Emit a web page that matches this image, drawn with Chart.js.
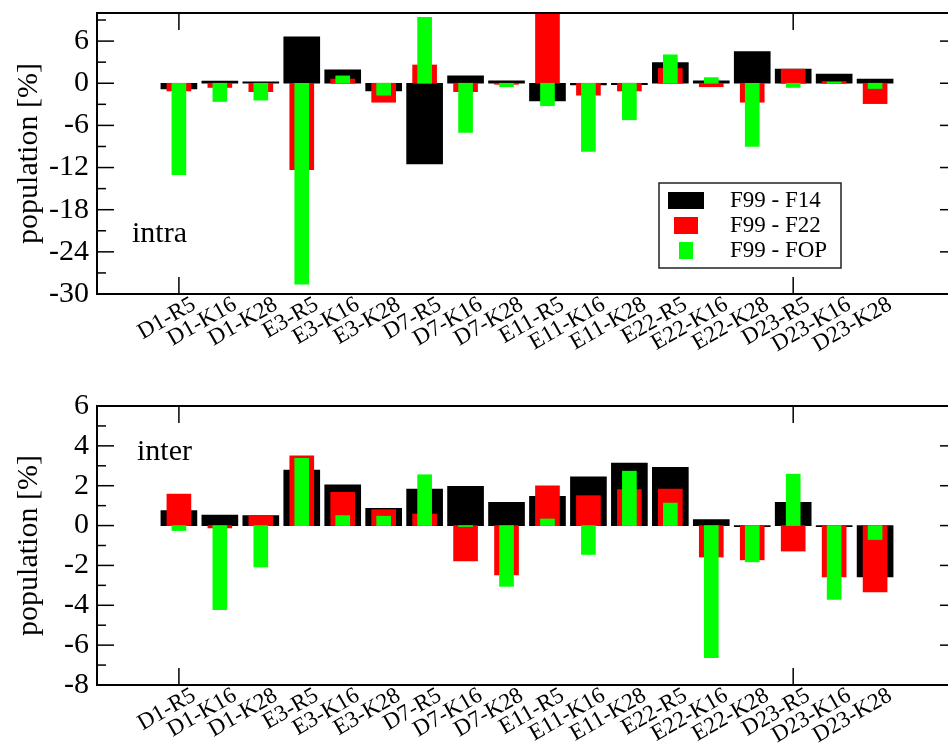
<!DOCTYPE html>
<html>
<head>
<meta charset="utf-8">
<script src="https://cdn.jsdelivr.net/npm/chart.js@4.4.1/dist/chart.umd.min.js"></script>
<style>
  html, body { margin: 0; padding: 0; background: #fff; overflow: hidden; width: 948px; height: 754px; }
  canvas { position: absolute; left: 0; }
  #intraChart { top: 0; }
  #interChart { top: 380px; }
</style>
</head>
<body>
<canvas id="intraChart" width="970" height="380"></canvas>
<canvas id="interChart" width="970" height="374"></canvas>
<script>
// Salt-bridge pairs
const categories = ['D1-R5', 'D1-K16', 'D1-K28', 'E3-R5', 'E3-K16', 'E3-K28',
  'D7-R5', 'D7-K16', 'D7-K28', 'E11-R5', 'E11-K16', 'E11-K28',
  'E22-R5', 'E22-K16', 'E22-K28', 'D23-R5', 'D23-K16', 'D23-K28'];

const seriesNames = ['F99 - F14', 'F99 - F22', 'F99 - FOP'];

// Population differences [%], intramolecular
const intraF14 = [-0.8, 0.3, 0.2, 6.6, 1.9, -1.1, -11.5, 1.05, 0.35, -2.5, -0.25, -0.2, 2.95, 0.35, 4.5, 2.0, 1.3, 0.6];
const intraF22 = [-1.1, -0.6, -1.2, -12.3, 0.6, -2.7, 2.6, -1.2, -0.15, 9.8, -1.7, -1.1, 2.1, -0.5, -2.7, 2.0, 0.25, -2.9];
const intraFOP = [-13.0, -2.6, -2.4, -28.6, 1.05, -1.7, 9.4, -7.0, -0.5, -3.2, -9.7, -5.2, 4.05, 0.8, -9.0, -0.6, 0.15, -0.75];

// Population differences [%], intermolecular
const interF14 = [0.75, 0.53, 0.5, 2.78, 2.05, 0.87, 1.83, 1.97, 1.17, 1.47, 2.45, 3.13, 2.92, 0.3, -0.05, 1.17, -0.05, -2.58];
const interF22 = [1.58, -0.12, 0.5, 3.5, 1.67, 0.8, 0.58, -1.78, -2.47, 2.0, 1.5, 1.8, 1.83, -1.58, -1.72, -1.28, -2.58, -3.33];
const interFOP = [-0.25, -4.22, -2.08, 3.37, 0.5, 0.47, 2.55, -0.05, -3.05, 0.33, -1.45, 2.73, 1.13, -6.63, -1.82, 2.58, -3.7, -0.7];

// Axis ticks
const intraMajor = [-30, -24, -18, -12, -6, 0, 6];
const intraMinor = [-27, -21, -15, -9, -3, 3, 9];
const interMajor = [-8, -6, -4, -2, 0, 2, 4, 6];
const interMinor = [-7, -5, -3, -1, 1, 3, 5];
const xMarks = [1, 16];

const colors = ['#000000', '#ff0000', '#00ff00'];
const thickness = [36, 24, 14];
const SERIF = "'Liberation Serif', 'Times New Roman', serif";
Chart.defaults.font.family = SERIF;
Chart.defaults.color = '#000';

// Frame, inward tick marks, panel tag and (optionally) the legend box
const framePlugin = {
  id: 'frame',
  afterDatasetsDraw(chart, args, opts) {
    const { ctx, chartArea: a, scales: { x, y } } = chart;
    ctx.save();
    ctx.strokeStyle = '#000';
    ctx.lineWidth = 2;
    ctx.strokeRect(a.left, a.top, a.right - a.left, a.bottom - a.top);
    ctx.lineWidth = 1.5;
    const seg = (x1, y1, x2, y2) => { ctx.beginPath(); ctx.moveTo(x1, y1); ctx.lineTo(x2, y2); ctx.stroke(); };
    const yMarks = (list, len) => list.forEach(v => {
      const py = y.getPixelForValue(v);
      seg(a.left, py, a.left + len, py);
      seg(a.right, py, a.right - len, py);
    });
    yMarks(opts.major, 17);
    yMarks(opts.minor, 9);
    xMarks.forEach(v => {
      const px = x.getPixelForValue(v);
      seg(px, a.top, px, a.top + 17);
      seg(px, a.bottom, px, a.bottom - 17);
    });
    // panel tag
    ctx.fillStyle = '#000';
    ctx.font = '30px ' + SERIF;
    ctx.textAlign = 'left';
    ctx.textBaseline = 'alphabetic';
    ctx.fillText(opts.tag, opts.tagX, opts.tagY);
    // legend
    if (opts.legend) {
      const L = opts.legend;
      ctx.fillStyle = '#fff';
      ctx.fillRect(L.x, L.y, L.w, L.h);
      ctx.lineWidth = 1.5;
      ctx.strokeStyle = '#222';
      ctx.strokeRect(L.x, L.y, L.w, L.h);
      ctx.font = '23px ' + SERIF;
      ctx.textBaseline = 'middle';
      chart.data.datasets.forEach((ds, i) => {
        const cy = L.y + L.rowTop + i * L.rowGap;
        const w = ds.barThickness;
        ctx.fillStyle = ds.backgroundColor;
        ctx.fillRect(L.x + L.swatchCx - w / 2, cy - 8, w, 17);
        ctx.fillStyle = '#000';
        ctx.fillText(ds.label, L.x + L.textX, cy + 1);
      });
    }
    ctx.restore();
  }
};

function makeDatasets(series) {
  return series.map((vals, i) => ({
    label: seriesNames[i],
    data: vals.map((v, k) => ({ x: k + 1, y: v })),
    backgroundColor: colors[i],
    borderWidth: 0,
    barThickness: thickness[i],
    grouped: false,
    order: 3 - i
  }));
}

function makeChart(id, series, yMin, yMax, major, minor, pad, xHeight, frameOpts) {
  return new Chart(document.getElementById(id), {
    type: 'bar',
    data: { datasets: makeDatasets(series) },
    plugins: [framePlugin],
    options: {
      responsive: false,
      animation: false,
      layout: { padding: { left: 0, top: pad.top, right: pad.right, bottom: 0 } },
      plugins: {
        legend: { display: false },
        tooltip: { enabled: false },
        frame: Object.assign({ major, minor }, frameOpts)
      },
      scales: {
        x: {
          type: 'linear',
          min: -1,
          max: 20,
          offset: false,
          border: { display: false },
          grid: { display: false, drawTicks: false },
          afterBuildTicks: s => { s.ticks = categories.map((c, k) => ({ value: k + 1 })); },
          afterFit: s => { s.height = xHeight; s.paddingLeft = 0; s.paddingRight = 0; },
          ticks: {
            autoSkip: false,
            minRotation: 30,
            maxRotation: 30,
            padding: -3,
            labelOffset: 15,
            color: '#000',
            font: { family: SERIF, size: 23 },
            callback: v => categories[v - 1]
          }
        },
        y: {
          min: yMin,
          max: yMax,
          border: { display: false },
          grid: { display: false, drawTicks: false },
          afterBuildTicks: s => { s.ticks = major.map(v => ({ value: v })); },
          afterFit: s => { s.width = 97; s.paddingTop = 0; s.paddingBottom = 0; },
          ticks: {
            padding: 8,
            color: '#000',
            font: { family: SERIF, size: 30 }
          },
          title: {
            display: true,
            text: 'population [%]',
            color: '#000',
            font: { family: SERIF, size: 30 },
            padding: { top: 11, bottom: 0 }
          }
        }
      }
    }
  });
}

makeChart('intraChart', [intraF14, intraF22, intraFOP], -30, 10, intraMajor, intraMinor,
  { top: 13, right: 13 }, 86,
  {
    tag: 'intra', tagX: 132, tagY: 242,
    legend: { x: 659, y: 183, w: 182, h: 85, rowTop: 17, rowGap: 25, swatchCx: 27, textX: 71 }
  });

makeChart('interChart', [interF14, interF22, interFOP], -8, 6, interMajor, interMinor,
  { top: 26, right: 13 }, 69,
  { tag: 'inter', tagX: 137, tagY: 80 });
</script>
</body>
</html>
